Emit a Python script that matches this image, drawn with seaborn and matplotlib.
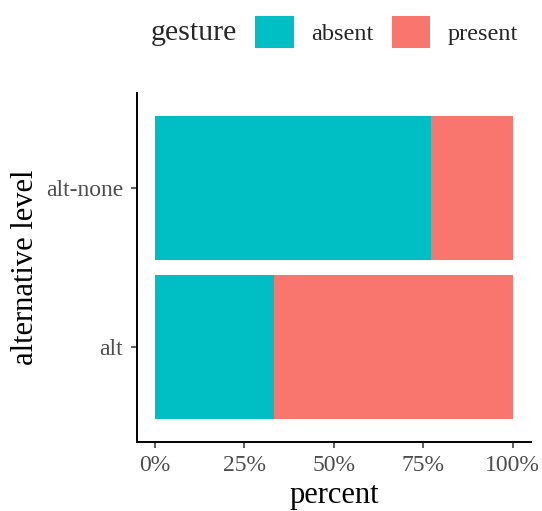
import matplotlib
matplotlib.use("Agg")
import matplotlib.pyplot as plt
from matplotlib.patches import Patch
from matplotlib.ticker import FuncFormatter
import seaborn as sns
import pandas as pd

levels = ["alt-none", "alt"]
absent_pct = [77.2, 33.4]
present_pct = [22.8, 66.6]
gestures = ["absent", "present"]
colors = {"absent": "#00BFC4", "present": "#F8766D"}
xticks = [0, 25, 50, 75, 100]

sns.set_theme(style="ticks")
plt.rcParams["font.family"] = ["Liberation Serif", "DejaVu Serif"]

df = pd.DataFrame({"level": levels, "absent": absent_pct, "present": present_pct})
df["cum_present"] = df["absent"] + df["present"]

fig = plt.figure(figsize=(5.42, 5.11), dpi=100)
ax = fig.add_axes([0.2528, 0.1342, 0.979 - 0.2528, 0.8188 - 0.1342])

sns.barplot(data=df, y="level", x="cum_present", order=levels, orient="h",
            color=colors["present"], width=0.9, linewidth=0, saturation=1, ax=ax)
sns.barplot(data=df, y="level", x="absent", order=levels, orient="h",
            color=colors["absent"], width=0.9, linewidth=0, saturation=1, ax=ax)

ax.set_xlim(-5, 105)
ax.set_ylim(1.6, -0.6)
ax.set_xticks(xticks)
ax.xaxis.set_major_formatter(FuncFormatter(lambda v, p: f"{int(v)}%"))
ax.set_xlabel("percent", fontsize=22, color="black", labelpad=3.5)
ax.set_ylabel("alternative level", fontsize=22, color="black", labelpad=4)
ax.tick_params(axis="x", labelsize=17, labelcolor="#4D4D4D", color="#333333",
               length=4, width=1.1, pad=5)
ax.tick_params(axis="y", labelsize=17, labelcolor="#4D4D4D", color="#333333",
               length=4, width=1.1, pad=6)
for s in ["top", "right"]:
    ax.spines[s].set_visible(False)
for s in ["left", "bottom"]:
    ax.spines[s].set_linewidth(1.4)
    ax.spines[s].set_color("black")

handles = [Patch(facecolor=colors[g], edgecolor="none", label=g) for g in gestures]
fig.legend(handles=handles, loc="center left", bbox_to_anchor=(255 / 542, 1 - 32 / 511),
           ncol=2, frameon=False, fontsize=17.5, handlelength=1.6, handleheight=1.6,
           handletextpad=0.7, columnspacing=0.75, borderaxespad=0, borderpad=0)
fig.text(151 / 542, 1 - 33 / 511, "gesture", fontsize=21.5, va="center", ha="left")

fig.savefig("out.png", dpi=100)
